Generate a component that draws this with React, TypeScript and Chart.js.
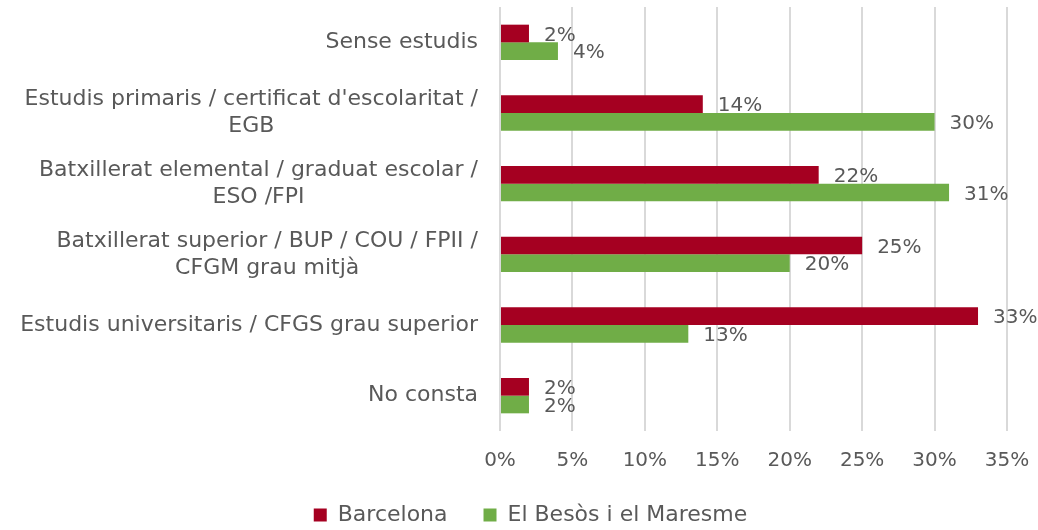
import React, { useEffect, useRef } from "react";
import { Chart, registerables } from "chart.js";

Chart.register(...registerables);

const categories: (string | string[])[] = [
  "Sense estudis",
  ["Estudis primaris / certificat d'escolaritat /", "EGB"],
  ["Batxillerat elemental / graduat escolar /", "ESO /FPI"],
  ["Batxillerat superior / BUP / COU / FPII /", "CFGM grau mitjà"],
  "Estudis universitaris / CFGS grau superior",
  "No consta",
];
const barcelona = [2, 14, 22, 25, 33, 2];
const besos = [4, 30, 31, 20, 13, 2];
const seriesNames = ["Barcelona", "El Besòs i el Maresme"];
const seriesColors = ["#A50021", "#70AD47"];
const xMin = 0;
const xMax = 35;
const xStep = 5;

const FONT = "'Century Gothic', 'DejaVu Sans', sans-serif";
const TEXT = "#595959";

const yLabelPlugin = {
  id: "yLabels",
  afterDraw(chart: any) {
    const ctx = chart.ctx;
    const y = chart.scales.y;
    ctx.save();
    ctx.font = `22px ${FONT}`;
    ctx.fillStyle = TEXT;
    ctx.textBaseline = "middle";
    ctx.textAlign = "center";
    const right = chart.chartArea.left - 22;
    categories.forEach((c, i) => {
      const lines = Array.isArray(c) ? c : [c];
      const maxW = Math.max(...lines.map((l) => ctx.measureText(l).width));
      const cx = right - maxW / 2;
      const cy = y.getPixelForValue(i);
      const lh = 27;
      lines.forEach((l, j) => ctx.fillText(l, cx, cy + (j - (lines.length - 1) / 2) * lh));
    });
    ctx.restore();
  },
};

const dataLabelPlugin = {
  id: "dataLabels",
  afterDatasetsDraw(chart: any) {
    const ctx = chart.ctx;
    ctx.save();
    ctx.font = `20px ${FONT}`;
    ctx.fillStyle = TEXT;
    ctx.textBaseline = "middle";
    ctx.textAlign = "left";
    chart.data.datasets.forEach((ds: any, di: number) => {
      const meta = chart.getDatasetMeta(di);
      meta.data.forEach((el: any, i: number) => {
        ctx.fillText(`${ds.data[i]}%`, el.x + 15, el.y + 2);
      });
    });
    ctx.restore();
  },
};

export default function App() {
  const ref = useRef<HTMLCanvasElement>(null);
  useEffect(() => {
    document.body.style.margin = "0";
    const chart = new Chart(ref.current!, {
      type: "bar",
      data: {
        labels: categories.map((c) => (Array.isArray(c) ? c.join(" ") : c)),
        datasets: [
          {
            label: seriesNames[0],
            data: barcelona,
            backgroundColor: seriesColors[0],
            categoryPercentage: 0.5,
            barPercentage: 1,
          },
          {
            label: seriesNames[1],
            data: besos,
            backgroundColor: seriesColors[1],
            categoryPercentage: 0.5,
            barPercentage: 1,
          },
        ],
      },
      options: {
        indexAxis: "y",
        animation: false,
        responsive: false,
        layout: { padding: { top: 7, right: 31, left: 54, bottom: -6 } },
        scales: {
          x: {
            min: xMin,
            max: xMax,
            ticks: {
              stepSize: xStep,
              callback: (v: any) => `${v}%`,
              font: { family: FONT, size: 20 },
              color: TEXT,
              padding: 18,
            },
            grid: { color: "#D9D9D9", lineWidth: 2, drawTicks: false },
            border: { display: false },
            afterFit: (s: any) => {
              s.height = 37;
              s.paddingRight = 0;
              s.paddingLeft = 0;
            },
          },
          y: {
            ticks: { display: false },
            grid: { display: false },
            border: { display: false },
            afterFit: (s: any) => {
              s.width = 446;
            },
          },
        },
        plugins: {
          legend: {
            position: "bottom",
            labels: {
              font: { family: FONT, size: 22 },
              color: TEXT,
              boxWidth: 13,
              boxHeight: 13,
              padding: 36,
            },
          },
          tooltip: { enabled: false },
        },
      },
      plugins: [yLabelPlugin, dataLabelPlugin],
    });
    return () => chart.destroy();
  }, []);
  return <canvas ref={ref} width={1038} height={530} style={{ display: "block" }} />;
}
